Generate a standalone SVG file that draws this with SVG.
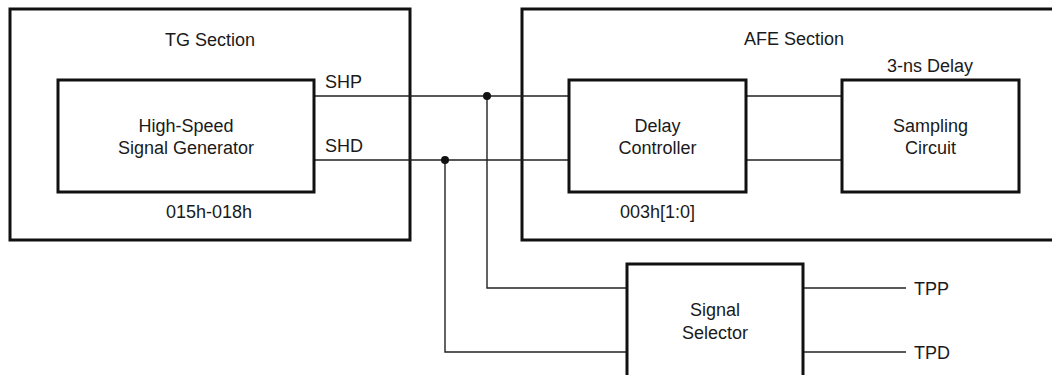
<svg xmlns="http://www.w3.org/2000/svg" width="1052" height="375" viewBox="0 0 1052 375">
<style>
.box{fill:none;stroke:#111;stroke-width:3}
.blk{fill:#fff;stroke:#111;stroke-width:3}
.w{fill:none;stroke:#222;stroke-width:1.4}
.t{font-family:"Liberation Sans",Arial,sans-serif;font-size:18px;fill:#1a1a1a}
.c{text-anchor:middle}
</style>
<rect width="1052" height="375" fill="#fff"/>
<g id="tg-section">
<rect class="box" x="10" y="9" width="400" height="231"/>
<text class="t c" x="210" y="45.5">TG Section</text>
<text class="t c" x="209" y="218">015h-018h</text>
</g>
<g id="afe-section">
<rect class="box" x="522" y="9" width="600" height="231"/>
<text class="t c" x="794" y="45">AFE Section</text>
<text class="t c" x="657.5" y="218">003h[1:0]</text>
<text class="t c" x="930" y="71.5">3-ns Delay</text>
</g>
<g id="connectors">
<path class="w" d="M314 96H569M314 160H569M746 96H842M746 160H842"/>
<path class="w" d="M487 96V288H627M445 160V352H627"/>
<path class="w" d="M803 288H906M803 352H906"/>
<circle cx="487" cy="96" r="4" fill="#111"/>
<circle cx="445" cy="160" r="4" fill="#111"/>
<text class="t" x="325" y="88">SHP</text>
<text class="t" x="325" y="152">SHD</text>
<text class="t" x="914" y="295">TPP</text>
<text class="t" x="914" y="359">TPD</text>
</g>
<g id="high-speed-signal-generator">
<rect class="blk" x="58" y="80" width="256" height="112"/>
<text class="t c" x="186" y="132">High-Speed</text>
<text class="t c" x="186" y="154">Signal Generator</text>
</g>
<g id="delay-controller">
<rect class="blk" x="569" y="80" width="177" height="112"/>
<text class="t c" x="657.5" y="131.5">Delay</text>
<text class="t c" x="657.5" y="154">Controller</text>
</g>
<g id="sampling-circuit">
<rect class="blk" x="842" y="80" width="177" height="112"/>
<text class="t c" x="930.5" y="131.5">Sampling</text>
<text class="t c" x="930.5" y="154">Circuit</text>
</g>
<g id="signal-selector">
<rect class="blk" x="627" y="264" width="176" height="150"/>
<text class="t c" x="715" y="316">Signal</text>
<text class="t c" x="715" y="339">Selector</text>
</g>
</svg>
